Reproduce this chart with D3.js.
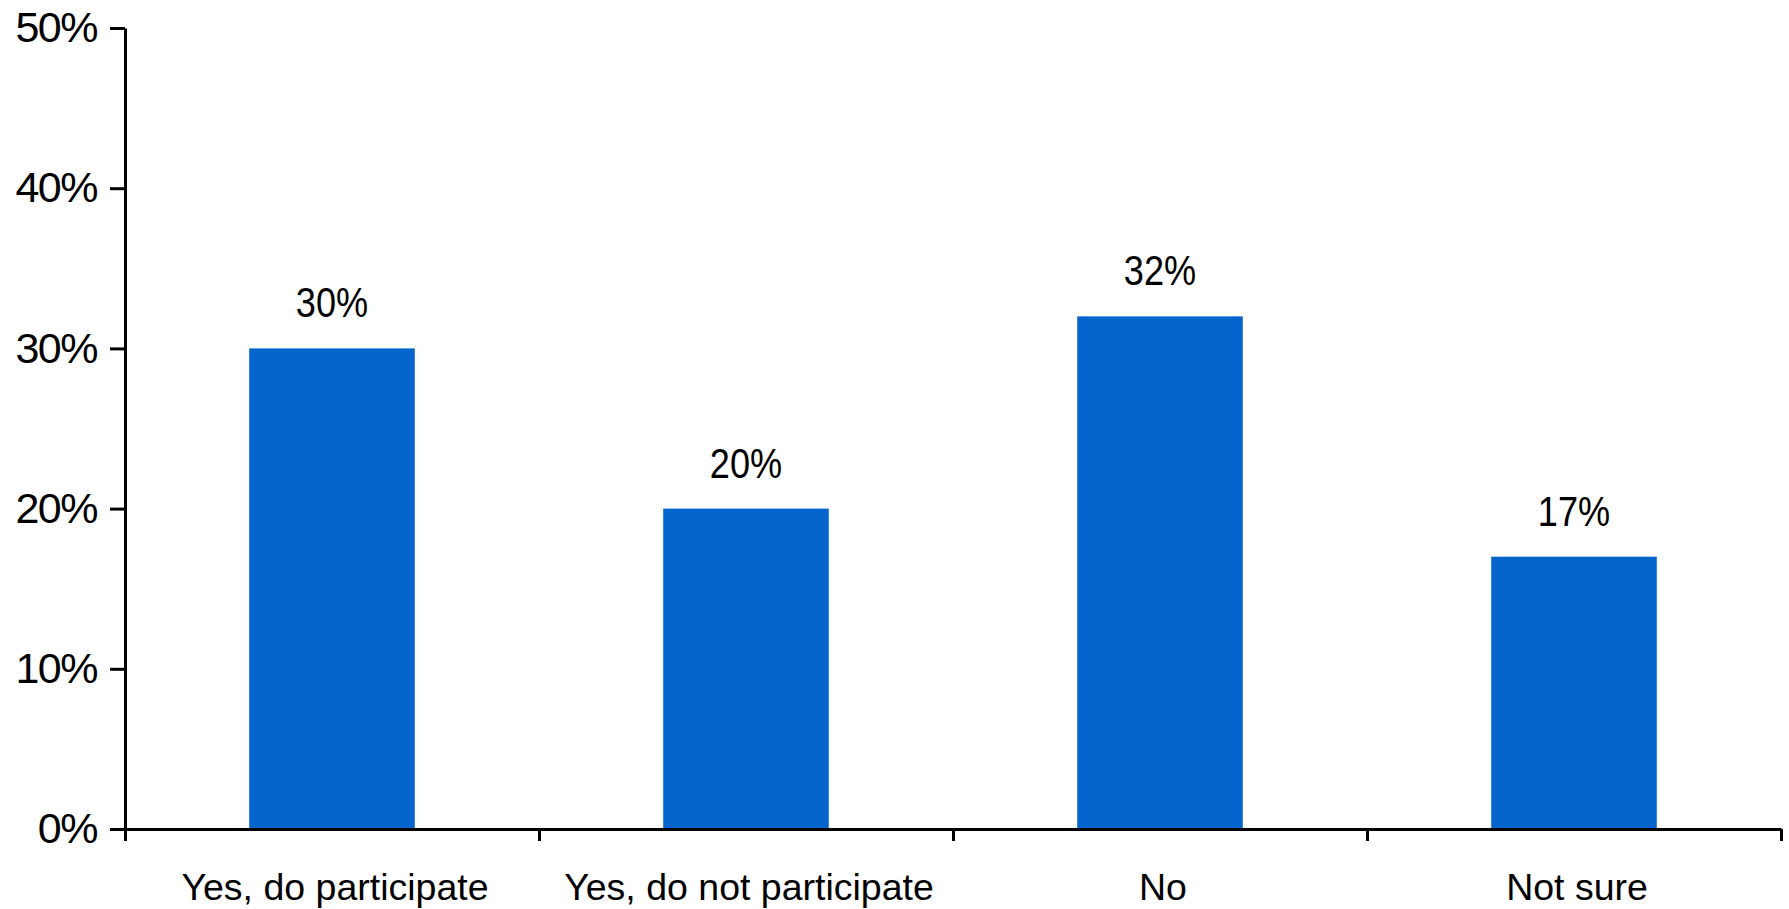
<!DOCTYPE html>
<html>
<head>
<meta charset="utf-8">
<script src="https://cdn.jsdelivr.net/npm/d3@7"></script>
<style>
  html, body { margin: 0; padding: 0; background: #fff; }
  svg { display: block; }
</style>
</head>
<body>
<svg id="chart" width="1789" height="909"></svg>
<script>
const categories = ["Yes, do participate", "Yes, do not participate", "No", "Not sure"];
const values = [0.30, 0.20, 0.32, 0.17];
const valueLabels = ["30%", "20%", "32%", "17%"];
const yTicks = [0, 0.1, 0.2, 0.3, 0.4, 0.5];

const W = 1789, H = 909;
const margin = { top: 28, right: 8, bottom: 80, left: 125 };
const svg = d3.select("#chart");

const x = d3.scaleBand().domain(categories).range([margin.left, W - margin.right]).padding(0);
const xEdges = d3.scaleLinear().domain([0, categories.length]).range([margin.left, W - margin.right]);
const y = d3.scaleLinear().domain([0, 0.5]).range([H - margin.bottom, margin.top]);

const barW = x.bandwidth() * 0.4;
const blue = "#0466cc";

// bars
svg.append("g").selectAll("rect").data(values).join("rect")
  .attr("x", (d, i) => x(categories[i]) + x.bandwidth() / 2 - barW / 2)
  .attr("y", d => y(d))
  .attr("width", barW)
  .attr("height", d => y(0) - y(d))
  .attr("fill", blue);

// value labels
svg.append("g").selectAll("text").data(values).join("text")
  .attr("transform", (d, i) => `translate(${x(categories[i]) + x.bandwidth() / 2},${y(d) - 31}) scale(0.86,1)`)
  .attr("text-anchor", "middle")
  .attr("font-family", "'Liberation Sans', Arial, sans-serif")
  .attr("font-size", 42)
  .attr("fill", "#000")
  .text((d, i) => valueLabels[i]);

// y axis
const yAxis = svg.append("g")
  .attr("transform", `translate(${margin.left},0)`)
  .call(d3.axisLeft(y).tickValues(yTicks).tickFormat(d3.format(".0%")).tickSize(15).tickSizeOuter(0).tickPadding(13));
yAxis.selectAll("path, line").attr("stroke", "#000").attr("stroke-width", 3);
yAxis.selectAll("text")
  .attr("font-family", "'Liberation Sans', Arial, sans-serif")
  .attr("font-size", 43)
  .attr("letter-spacing", "-1.5px")
  .attr("fill", "#000");

// x axis (boundary ticks)
const xAxis = svg.append("g")
  .attr("transform", `translate(0,${y(0)})`)
  .call(d3.axisBottom(xEdges).tickValues(d3.range(categories.length + 1)).tickFormat("").tickSize(12).tickSizeOuter(0));
xAxis.selectAll("path, line").attr("stroke", "#000").attr("stroke-width", 3);

// category labels
const xLab = svg.append("g")
  .attr("transform", `translate(0,${y(0)})`)
  .call(d3.axisBottom(x).tickSize(0).tickPadding(44));
xLab.select(".domain").remove();
xLab.selectAll("text")
  .attr("dx", 3)
  .attr("font-family", "'Liberation Sans', Arial, sans-serif")
  .attr("font-size", 37.5)
  .attr("fill", "#000");
</script>
</body>
</html>
